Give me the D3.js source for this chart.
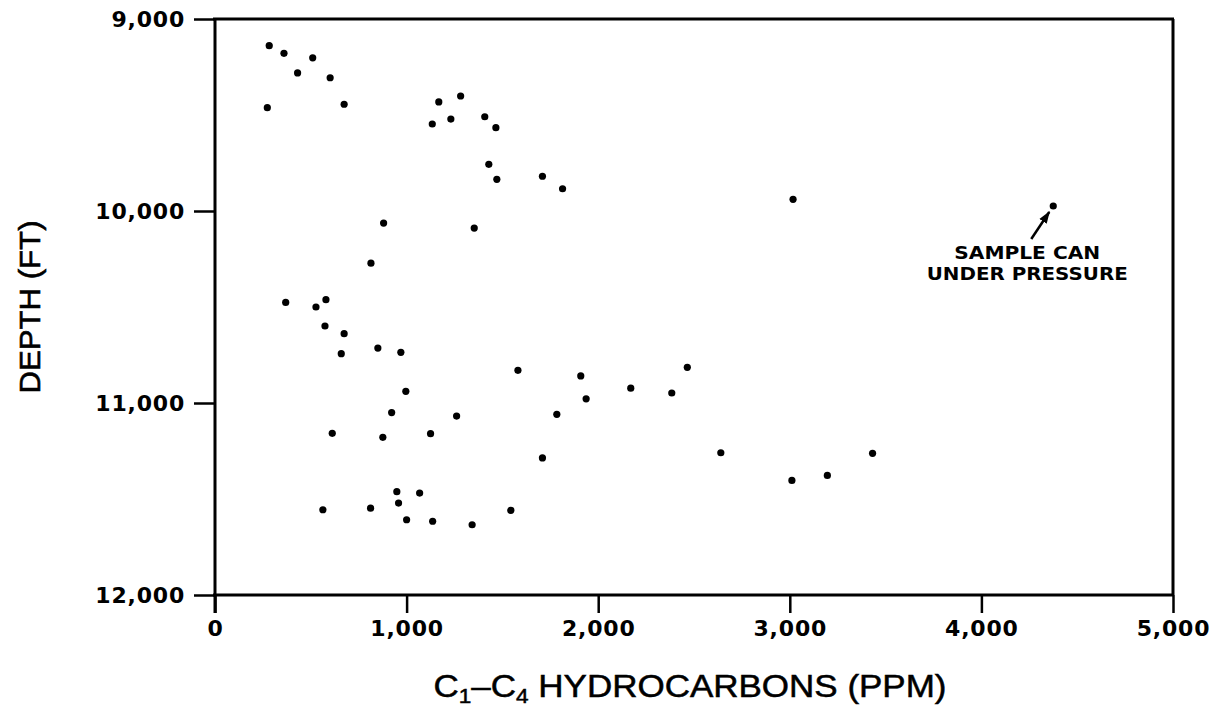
<!DOCTYPE html>
<html>
<head>
<meta charset="utf-8">
<script src="https://cdn.jsdelivr.net/npm/d3@7"></script>
<style>
  html, body { margin: 0; padding: 0; background: #fff; }
  svg { display: block; }
</style>
</head>
<body>
<svg id="chart" width="1212" height="713"></svg>
<script>
// ---- data ----
const hydrocarbonsPPM = [
  283, 360, 510, 431, 601, 273, 674, 1168, 1282, 1134, 1231, 1408, 1466, 1429, 1471, 1709, 1814,
  880, 1353, 814, 369, 527, 579, 574, 674, 659, 850, 970, 1581, 1909, 2465, 996, 2170, 2384, 1937,
  922, 1261, 1784, 612, 876, 1125, 1709, 563, 812, 949, 958, 1068, 1000, 1136, 1342, 1544,
  2640, 3011, 3196, 3432, 3017
];
const depthFT = [
  9139, 9179, 9202, 9281, 9306, 9462, 9444, 9432, 9401, 9547, 9521, 9509, 9566, 9757, 9835, 9819, 9884,
  10063, 10089, 10272, 10476, 10500, 10462, 10599, 10639, 10743, 10714, 10736, 10830, 10859, 10814, 10939, 10923, 10948, 10978,
  11050, 11068, 11059, 11158, 11179, 11160, 11286, 11556, 11548, 11462, 11521, 11469, 11608, 11616, 11634, 11559,
  11259, 11403, 11377, 11262, 9939
];
const pressurePoint = [4375, 9974];            // sample can under pressure
const annotationLines = ["SAMPLE CAN", "UNDER PRESSURE"];
const xTicks = [0, 1000, 2000, 3000, 4000, 5000];
const yTicks = [9000, 10000, 11000, 12000];
const xDomain = [0, 5000];
const yDomain = [9000, 12000];
const yTitle = "DEPTH (FT)";

// ---- drawing ----
const svg = d3.select("#chart");
const x = d3.scaleLinear().domain(xDomain).range([215, 1173]);
const y = d3.scaleLinear().domain(yDomain).range([19, 595]);
const ink = "#000";

// frame (top and right borders)
svg.append("line")
  .attr("x1", x(xDomain[0]) - 2).attr("x2", x(xDomain[1]) + 1)
  .attr("y1", y(yDomain[0])).attr("y2", y(yDomain[0]))
  .attr("stroke", ink).attr("stroke-width", 3);
svg.append("line")
  .attr("x1", x(xDomain[1])).attr("x2", x(xDomain[1]))
  .attr("y1", y(yDomain[0])).attr("y2", y(yDomain[1]))
  .attr("stroke", ink).attr("stroke-width", 3);

const fmt = d3.format(",");

// x axis
const gx = svg.append("g")
  .attr("transform", `translate(0,${y(yDomain[1])})`)
  .call(d3.axisBottom(x).tickValues(xTicks).tickFormat(fmt).tickSize(18).tickSizeOuter(0).tickPadding(7));
// y axis
const gy = svg.append("g")
  .attr("transform", `translate(${x(xDomain[0])},0)`)
  .call(d3.axisLeft(y).tickValues(yTicks).tickFormat(fmt).tickSize(21).tickSizeOuter(0).tickPadding(9));

[gx, gy].forEach(g => {
  g.select(".domain").attr("stroke", ink).attr("stroke-width", 3);
  g.selectAll(".tick line").attr("stroke", ink).attr("stroke-width", 2.5);
  g.selectAll(".tick text")
    .attr("fill", ink)
    .style("font-family", "'DejaVu Sans', sans-serif")
    .style("font-weight", "bold")
    .style("font-size", "22px")
    .style("letter-spacing", "0.8px");
});
gx.select(".domain").attr("d", `M${x(xDomain[0]) - 2},0H${x(xDomain[1]) + 1}`);
gy.select(".domain").attr("d", `M0,${y(yDomain[0]) - 1}V${y(yDomain[1]) + 18}`);

// points
svg.append("g").selectAll("circle")
  .data(hydrocarbonsPPM.map((v, i) => [v, depthFT[i]]).concat([pressurePoint]))
  .join("circle")
  .attr("cx", d => x(d[0]))
  .attr("cy", d => y(d[1]))
  .attr("r", 3.6)
  .attr("fill", ink);

// annotation arrow + text
const px = x(pressurePoint[0]), py = y(pressurePoint[1]);
svg.append("defs").append("marker")
  .attr("id", "ah").attr("viewBox", "0 0 10 10").attr("refX", 9).attr("refY", 5)
  .attr("markerWidth", 5).attr("markerHeight", 5).attr("orient", "auto")
  .append("path").attr("d", "M0,1.5L10,5L0,8.5Z").attr("fill", ink);
svg.append("line")
  .attr("x1", px - 22).attr("y1", py + 33)
  .attr("x2", px - 4).attr("y2", py + 6)
  .attr("stroke", ink).attr("stroke-width", 2.5)
  .attr("marker-end", "url(#ah)");
const annW = [146, 201];
annotationLines.forEach((t, i) => {
  svg.append("text")
    .attr("x", px - 26).attr("y", py + 53 + i * 21)
    .attr("text-anchor", "middle")
    .attr("textLength", annW[i]).attr("lengthAdjust", "spacingAndGlyphs")
    .style("font-family", "'DejaVu Sans', sans-serif")
    .style("font-weight", "bold")
    .style("font-size", "18px")
    .attr("fill", ink)
    .text(t);
});

// y title
svg.append("text")
  .attr("transform", `translate(40,${(y(yDomain[0]) + y(yDomain[1])) / 2}) rotate(-90)`)
  .attr("text-anchor", "middle")
  .attr("textLength", 173).attr("lengthAdjust", "spacingAndGlyphs")
  .style("font-family", "'Liberation Sans', Arial, sans-serif")
  .style("font-size", "30px")
  .style("stroke", ink).style("stroke-width", 0.6)
  .attr("fill", ink)
  .text(yTitle);

// x title with subscripts
const xt = svg.append("text")
  .attr("x", 690)
  .attr("y", 697)
  .attr("text-anchor", "middle")
  .attr("textLength", 513).attr("lengthAdjust", "spacingAndGlyphs")
  .style("font-family", "'Liberation Sans', Arial, sans-serif")
  .style("font-size", "31px")
  .style("stroke", ink).style("stroke-width", 0.5)
  .attr("fill", ink);
xt.append("tspan").text("C");
xt.append("tspan").attr("dy", 6).style("font-size", "20px").text("1");
xt.append("tspan").attr("dy", -6).text("\u2013C");
xt.append("tspan").attr("dy", 6).style("font-size", "20px").text("4");
xt.append("tspan").attr("dy", -6).text(" HYDROCARBONS (PPM)");
</script>
</body>
</html>
